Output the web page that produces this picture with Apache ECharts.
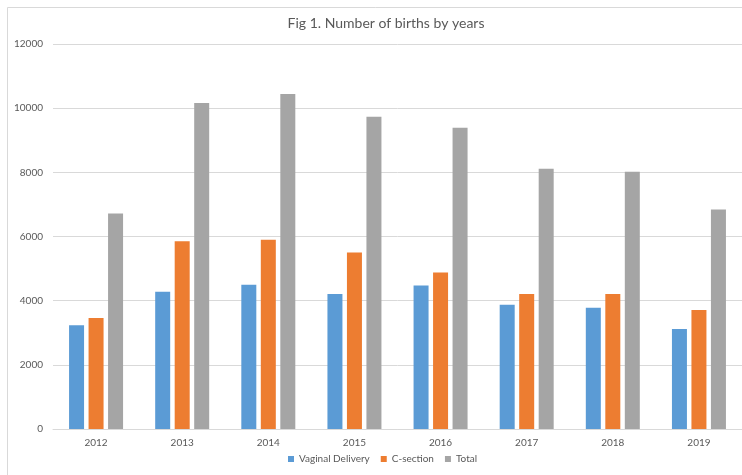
<!DOCTYPE html>
<html>
<head>
<meta charset="utf-8">
<script src="https://cdn.jsdelivr.net/npm/echarts@6/dist/echarts.min.js"></script>
<style>
  html, body { margin: 0; padding: 0; background: #ffffff; }
  #chart { width: 742px; height: 475px; }
</style>
</head>
<body>
<div id="chart"></div>
<script>
// Births per year, split by delivery type
const years = ['2012', '2013', '2014', '2015', '2016', '2017', '2018', '2019'];
const vaginal = [3230, 4280, 4500, 4210, 4470, 3870, 3780, 3120];
const cSection = [3460, 5850, 5900, 5500, 4880, 4210, 4210, 3710];
const total = [6720, 10160, 10440, 9730, 9390, 8110, 8020, 6840];

const font = 'Lato, "Open Sans", sans-serif';
const textColor = '#595959';

const chart = echarts.init(document.getElementById('chart'), null, { renderer: 'canvas' });

const barSeries = (name, data, color) => ({
  name: name,
  type: 'bar',
  data: data,
  barWidth: 15,
  barGap: '30%',
  itemStyle: { color: color },
  emphasis: { disabled: true }
});

chart.setOption({
  animation: false,
  backgroundColor: '#ffffff',
  // chart-area frame (runs off the right and bottom edges)
  graphic: [{
    type: 'rect',
    left: 5,
    top: 5,
    shape: { width: 800, height: 520 },
    style: { fill: 'none', stroke: '#d9d9d9', lineWidth: 1 },
    silent: true
  }],
  title: {
    text: 'Fig 1. Number of births by years',
    left: 381,
    top: 11,
    textAlign: 'center',
    textStyle: { fontFamily: font, fontSize: 14, fontWeight: 'normal', color: textColor }
  },
  legend: {
    bottom: 6,
    left: 283,
    itemWidth: 6,
    itemHeight: 6,
    itemGap: 11,
    icon: 'rect',
    textStyle: { fontFamily: font, fontSize: 10, color: textColor },
    data: ['Vaginal Delivery', 'C-section', 'Total']
  },
  grid: { left: 53, top: 44, width: 689, height: 385, containLabel: false },
  xAxis: {
    type: 'category',
    data: years,
    axisLine: { lineStyle: { color: '#d9d9d9' } },
    axisTick: { show: false },
    axisLabel: { fontFamily: font, fontSize: 10, color: textColor, margin: 9 }
  },
  yAxis: {
    type: 'value',
    min: 0,
    max: 12000,
    interval: 2000,
    axisLine: { show: false },
    axisTick: { show: false },
    splitLine: { lineStyle: { color: '#d9d9d9' } },
    axisLabel: {
      fontFamily: font, fontSize: 10, color: textColor, margin: 10,
      formatter: (v) => String(v)
    }
  },
  series: [
    barSeries('Vaginal Delivery', vaginal, '#5B9BD5'),
    barSeries('C-section', cSection, '#ED7D31'),
    barSeries('Total', total, '#A5A5A5')
  ]
});
</script>
</body>
</html>
